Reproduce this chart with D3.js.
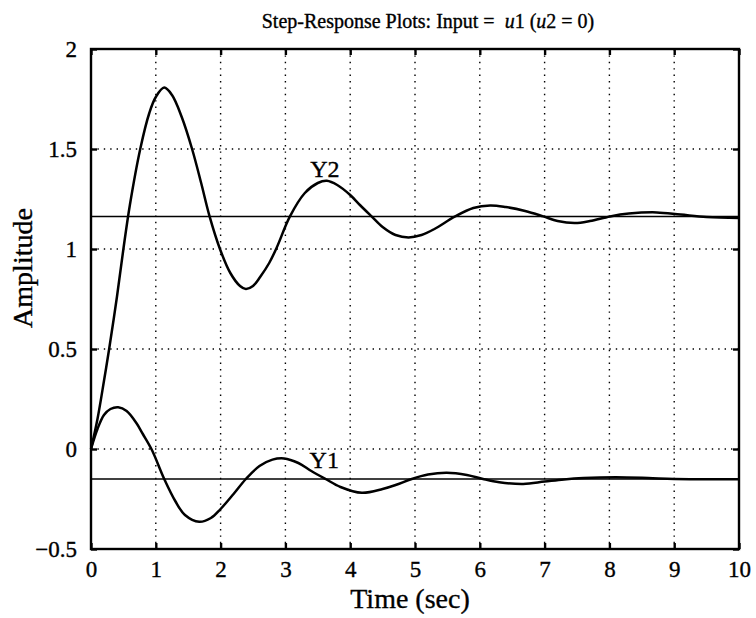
<!DOCTYPE html>
<html><head><meta charset="utf-8">
<script src="https://cdn.jsdelivr.net/npm/d3@7"></script>
<style>
body{margin:0;background:#fff;}
text{font-family:"Liberation Serif","Times New Roman",serif;fill:#000;stroke:#000;stroke-width:0.35px;}
</style></head>
<body><svg id="c" width="756" height="618"></svg>
<script>
// ---- data ----
const xTicks = [0,1,2,3,4,5,6,7,8,9,10];
const yTicks = [-0.5,0,0.5,1,1.5,2];
const yTickLabels = ["\u22120.5","0","0.5","1","1.5","2"];
const y2Time = [0,0.1,0.2,0.28,0.4,0.5,0.6,0.76,0.9,1.0,1.13,1.25,1.4,1.56,1.7,1.83,1.99,2.15,2.3,2.39,2.5,2.61,2.75,2.87,3.07,3.3,3.5,3.64,3.8,4.0,4.15,4.33,4.5,4.7,4.9,5.1,5.3,5.62,5.9,6.16,6.4,6.7,6.98,7.2,7.47,7.7,8.01,8.3,8.73,9.1,9.5,10];
const y2Vals = [0,0.15,0.34,0.5,0.76,1.0,1.22,1.5,1.68,1.76,1.807,1.77,1.66,1.5,1.33,1.163,1.0,0.88,0.815,0.80,0.815,0.86,0.93,1.01,1.163,1.28,1.33,1.341,1.32,1.27,1.22,1.163,1.11,1.07,1.058,1.07,1.10,1.163,1.205,1.218,1.21,1.19,1.163,1.14,1.13,1.14,1.163,1.177,1.183,1.172,1.16,1.155];
const y1Time = [0,0.1,0.2,0.3,0.42,0.55,0.7,0.8,0.94,1.13,1.3,1.45,1.67,1.85,2.0,2.2,2.39,2.6,2.8,2.98,3.2,3.4,3.62,3.85,4.18,4.5,4.7,4.95,5.2,5.49,5.8,6.05,6.3,6.67,7.0,7.3,7.6,8.1,8.6,9.0,10];
const y1Vals = [0,0.1,0.17,0.2,0.209,0.19,0.13,0.075,-0.005,-0.15,-0.26,-0.33,-0.364,-0.345,-0.3,-0.225,-0.15,-0.085,-0.053,-0.047,-0.07,-0.11,-0.15,-0.19,-0.219,-0.2,-0.18,-0.15,-0.128,-0.119,-0.13,-0.15,-0.166,-0.175,-0.163,-0.152,-0.145,-0.141,-0.145,-0.15,-0.151];
const steadyVals = [-0.15, 1.163];
const curveLabels = ["Y1","Y2"];
const curveLabelPos = [[3.6,-0.097],[3.61,1.36]];

// ---- layout ----
const svg = d3.select("#c");
const L=91,R=739,T=49,B=549;
const x = d3.scaleLinear().domain([0,10]).range([L,R]);
const y = d3.scaleLinear().domain([-0.5,2]).range([B,T]);

// grid
const g = svg.append("g");
g.selectAll(".vg").data(xTicks.slice(1,-1)).join("line")
  .attr("x1",d=>x(d)).attr("x2",d=>x(d)).attr("y1",T).attr("y2",B)
  .attr("stroke","#000").attr("stroke-width",1.4).attr("stroke-dasharray","1.4,5");
g.selectAll(".hg").data(yTicks.slice(1,-1)).join("line")
  .attr("y1",d=>y(d)).attr("y2",d=>y(d)).attr("x1",L).attr("x2",R)
  .attr("stroke","#000").attr("stroke-width",1.4).attr("stroke-dasharray","1.4,5");

// steady-state lines
g.selectAll(".ss").data(steadyVals).join("line")
  .attr("y1",d=>y(d)).attr("y2",d=>y(d)).attr("x1",L).attr("x2",R)
  .attr("stroke","#000").attr("stroke-width",1.5);

// curves
const line = d3.line().x(d=>x(d[0])).y(d=>y(d[1])).curve(d3.curveCatmullRom.alpha(0.5));
[[y1Time,y1Vals],[y2Time,y2Vals]].forEach(([t,v])=>{
  svg.append("path").datum(t.map((tt,i)=>[tt,v[i]]))
    .attr("d",line).attr("fill","none").attr("stroke","#000").attr("stroke-width",2.5);
});

// axes frame
svg.append("rect").attr("x",L).attr("y",T).attr("width",R-L).attr("height",B-T)
  .attr("fill","none").attr("stroke","#000").attr("stroke-width",2.4);

// axes with inward ticks
const ax = d3.axisBottom(x).tickValues(xTicks).tickSize(-6).tickPadding(16).tickFormat(d3.format("d"));
const axB = svg.append("g").attr("transform",`translate(0,${B})`).call(ax);
const axT = svg.append("g").attr("transform",`translate(0,${T})`).call(d3.axisTop(x).tickValues(xTicks).tickSize(-6).tickFormat(""));
const ay = d3.axisLeft(y).tickValues(yTicks).tickSize(-6).tickPadding(14).tickFormat((d,i)=>yTickLabels[i]);
const axL = svg.append("g").attr("transform",`translate(${L},0)`).call(ay);
const axR = svg.append("g").attr("transform",`translate(${R},0)`).call(d3.axisRight(y).tickValues(yTicks).tickSize(-6).tickFormat(""));
[axB,axT,axL,axR].forEach(a=>{
  a.select(".domain").remove();
  a.selectAll(".tick line").attr("stroke","#000").attr("stroke-width",2.4);
  a.selectAll("text").attr("font-size",23).attr("fill","#000")
   .style("font-family",'"Liberation Serif","Times New Roman",serif');
});
axB.selectAll("text").attr("dy","0.5em");
axL.selectAll("text").attr("dy","0.32em");

// curve labels
svg.selectAll(".cl").data(curveLabels).join("text")
  .attr("x",(d,i)=>x(curveLabelPos[i][0])).attr("y",(d,i)=>y(curveLabelPos[i][1]))
  .attr("text-anchor","middle").attr("font-size",24).text(d=>d);

// title
const title = svg.append("text").attr("x",428).attr("y",28).attr("text-anchor","middle").attr("font-size",20);
title.append("tspan").text("Step-Response Plots: Input = \u00a0");
title.append("tspan").attr("font-style","italic").text("u");
title.append("tspan").text("1 (");
title.append("tspan").attr("font-style","italic").text("u");
title.append("tspan").text("2 = 0)");

// axis labels
svg.append("text").attr("x",410).attr("y",608).attr("text-anchor","middle").attr("font-size",28).text("Time (sec)");
svg.append("text").attr("transform",`translate(32,268) rotate(-90)`).attr("text-anchor","middle").attr("font-size",28).text("Amplitude");
</script></body></html>
